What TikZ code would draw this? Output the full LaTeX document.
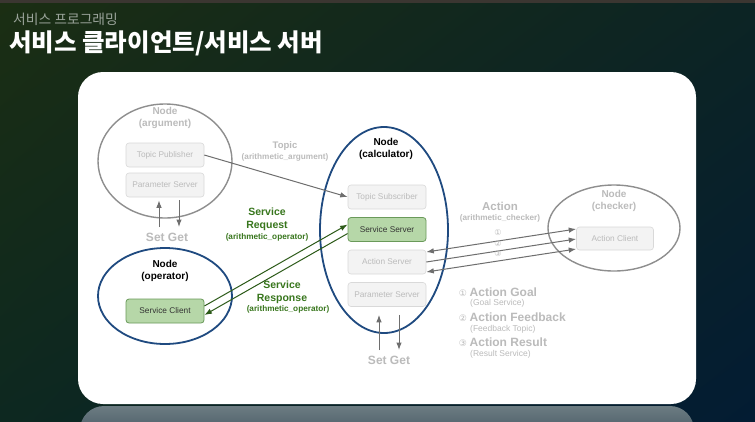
\documentclass[tikz,border=0pt]{standalone}
\usepackage{fontspec}
\setmainfont{Liberation Sans}
\newfontfamily\krfont{Noto Sans CJK KR}
\newfontfamily\djfont{DejaVu Sans}
\usetikzlibrary{shapes.geometric,arrows.meta,shadings}
\definecolor{bgTL}{HTML}{1B2E13}
\definecolor{bgTR}{HTML}{0C2424}
\definecolor{bgBL}{HTML}{0D2820}
\definecolor{bgBR}{HTML}{031C33}
\definecolor{topbar}{HTML}{3B3631}
\definecolor{subgray}{HTML}{9AA39A}
\definecolor{lgray}{HTML}{BBBBBB}
\definecolor{mgray}{HTML}{8E8E8E}
\definecolor{agray}{HTML}{6E6E6E}
\definecolor{navy}{HTML}{1F4A80}
\definecolor{gfill}{HTML}{B6D7A8}
\definecolor{gborder}{HTML}{6A9A5A}
\definecolor{gtext}{HTML}{38761D}
\definecolor{garrow}{HTML}{2C5A18}
\definecolor{boxfill}{HTML}{F3F3F3}
\definecolor{boxline}{HTML}{D9D9D9}
\definecolor{reflTop}{HTML}{6C7C82}
\definecolor{reflBot}{HTML}{2A3C4C}
\tikzset{
  graynode/.style={ellipse, draw=mgray, line width=1.4pt, inner sep=0},
  navynode/.style={ellipse, draw=navy, line width=1.8pt, inner sep=0},
  nodetitle/.style={align=center, font=\bfseries\fontsize{10}{12}\selectfont, inner sep=0},
  grayboxst/.style={draw=boxline, fill=boxfill, rounded corners=3pt, minimum width=78pt, minimum height=24pt, inner sep=0, text=lgray, font=\fontsize{8.3}{10}\selectfont, line width=0.6pt},
  greenboxst/.style={draw=gborder, fill=gfill, rounded corners=3pt, minimum width=78pt, minimum height=24pt, inner sep=0, text=black!80, font=\fontsize{8.3}{10}\selectfont, line width=0.8pt},
  grayarrow/.style={draw=agray, line width=1pt, -{Latex[length=7.5pt,width=5.5pt]}},
  greenarrow/.style={draw=garrow, line width=1pt, -{Latex[length=7.5pt,width=5.5pt]}},
  setget/.style={text=lgray, font=\bfseries\fontsize{12}{14}\selectfont, inner sep=0},
  edgelbl/.style={align=center, inner sep=0, font=\bfseries\fontsize{9.5}{12}\selectfont},
  smalllbl/.style={font=\bfseries\fontsize{8.2}{10}\selectfont},
  legendbig/.style={anchor=west, inner sep=0, text=lgray, font=\bfseries\fontsize{12}{14}\selectfont},
  legendsmall/.style={anchor=west, inner sep=0, text=lgray, font=\fontsize{8.5}{10}\selectfont},
  circnum/.style={inner sep=0, text=lgray, font=\djfont\fontsize{8}{9}\selectfont},
}
\begin{document}
\begin{tikzpicture}[x=1pt,y=-1pt]
\useasboundingbox (0,0) rectangle (755,421);
\begin{scope}
\clip (0,0) rectangle (755,421);
\shade[upper left=bgTL, upper right=bgTR, lower left=bgBL, lower right=bgBR] (0,0) rectangle (755,421);
\fill[topbar] (0,0) rectangle (755,3);
% reflection
\shade[top color=reflTop, bottom color=reflBot, rounded corners=24pt] (80,406) rectangle (694,460);
% panel
\fill[white, rounded corners=25pt] (78,72) rectangle (696,404);
\end{scope}

% titles
\node[anchor=west, inner sep=0, text=subgray, font=\krfont\fontsize{13.8}{15}\selectfont] (subtitle) at (13,19) {서비스 프로그래밍};
\node[anchor=west, inner sep=0, text=white, font=\krfont\bfseries\fontsize{24.5}{28}\selectfont] (title) at (9,43) {서비스 클라이언트/서비스 서버};

% Node argument
\node[graynode, minimum width=134pt, minimum height=114pt] (argN) at (165,161) {};
\node[nodetitle, text=lgray] (argT) at (165,118) {Node\\(argument)};
\node[grayboxst] (tp) at (165,155) {Topic Publisher};
\node[grayboxst] (ps1) at (165,185) {Parameter Server};
\coordinate (s1a) at (159,227);
\coordinate (g1b) at (179,227);
\draw[grayarrow] (s1a) -- ([xshift=-6pt,yshift=-3pt]ps1.south);
\draw[grayarrow] ([xshift=14pt,yshift=-3pt]ps1.south) -- (g1b);
\node[setget] (sg1) at (167,237) {Set Get};

% Node operator
\node[navynode, minimum width=134pt, minimum height=96pt] (opN) at (165,296) {};
\node[nodetitle, text=black] (opT) at (165,271) {Node\\(operator)};
\node[greenboxst] (sc) at (165,311) {Service Client};

% Node calculator
\node[navynode, minimum width=128pt, minimum height=206pt] (calcN) at (384,230) {};
\node[nodetitle, text=black] (calcT) at (386,149) {Node\\(calculator)};
\node[grayboxst] (ts) at (387,197) {Topic Subscriber};
\node[greenboxst] (ss) at (387,229.5) {Service Server};
\node[grayboxst] (as) at (387,262) {Action Server};
\node[grayboxst] (ps2) at (387,294.5) {Parameter Server};
\coordinate (s2a) at (379,350);
\coordinate (g2b) at (399,350);
\draw[grayarrow] (s2a) -- ([xshift=-8pt,yshift=-8pt]ps2.south);
\draw[grayarrow] ([xshift=12pt,yshift=-8pt]ps2.south) -- (g2b);
\node[setget] (sg2) at (389,360) {Set Get};

% Node checker
\node[graynode, minimum width=132pt, minimum height=86pt] (chkN) at (614,228) {};
\node[nodetitle, text=lgray] (chkT) at (614,201) {Node\\(checker)};
\node[grayboxst, minimum width=77pt, minimum height=23pt] (ac) at (615,238.5) {Action Client};

% Topic
\draw[grayarrow] (tp.east) -- (ts.west);
\node[edgelbl, text=lgray] (topicL) at (285,146) {Topic};
\node[edgelbl, smalllbl, text=lgray] (topicS) at (285,157) {(arithmetic\_argument)};

% Service
\draw[greenarrow] ([yshift=5pt]sc.east) -- ([yshift=5pt]ss.west);
\draw[greenarrow] ([yshift=-4pt]ss.west) -- ([yshift=-4pt]sc.east);
\node[edgelbl, text=gtext, font=\bfseries\fontsize{10.5}{13}\selectfont] (reqL) at (267,219.5) {Service\\Request};
\node[edgelbl, smalllbl, text=gtext] (reqS) at (267,237) {(arithmetic\_operator)};
\node[edgelbl, text=gtext, font=\bfseries\fontsize{10.5}{13}\selectfont] (resL) at (282,292) {Service\\Response};
\node[edgelbl, smalllbl, text=gtext] (resS) at (288,309) {(arithmetic\_operator)};

% Action
\draw[draw=agray, line width=1pt, {Latex[length=7.5pt,width=5.5pt]}-{Latex[length=7.5pt,width=5.5pt]}] ([yshift=10pt]as.east) -- ([yshift=9.5pt]ac.west);
\draw[grayarrow] ([yshift=0pt]as.east) -- ([yshift=-0.5pt]ac.west);
\draw[draw=agray, line width=1pt, {Latex[length=7.5pt,width=5.5pt]}-{Latex[length=7.5pt,width=5.5pt]}] ([yshift=-10pt]as.east) -- ([yshift=-10.5pt]ac.west);
\node[circnum] (c1) at (498,233) {①};
\node[circnum] (c2) at (498,243.5) {②};
\node[circnum] (c3) at (498,254) {③};
\node[edgelbl, text=lgray, font=\bfseries\fontsize{11.5}{13}\selectfont] (actL) at (500,206) {Action};
\node[edgelbl, smalllbl, text=lgray] (actS) at (500,218) {(arithmetic\_checker)};

% Legend
\node[circnum, font=\djfont\fontsize{9}{10}\selectfont] (l1) at (463,293) {①};
\node[legendbig] (l1t) at (469.5,292) {Action Goal};
\node[legendsmall] (l1s) at (470,303.5) {(Goal Service)};
\node[circnum, font=\djfont\fontsize{9}{10}\selectfont] (l2) at (463,318) {②};
\node[legendbig] (l2t) at (469.5,317) {Action Feedback};
\node[legendsmall] (l2s) at (470,329) {(Feedback Topic)};
\node[circnum, font=\djfont\fontsize{9}{10}\selectfont] (l3) at (463,343) {③};
\node[legendbig] (l3t) at (469.5,342) {Action Result};
\node[legendsmall] (l3s) at (470,354.5) {(Result Service)};
\end{tikzpicture}
\end{document}
